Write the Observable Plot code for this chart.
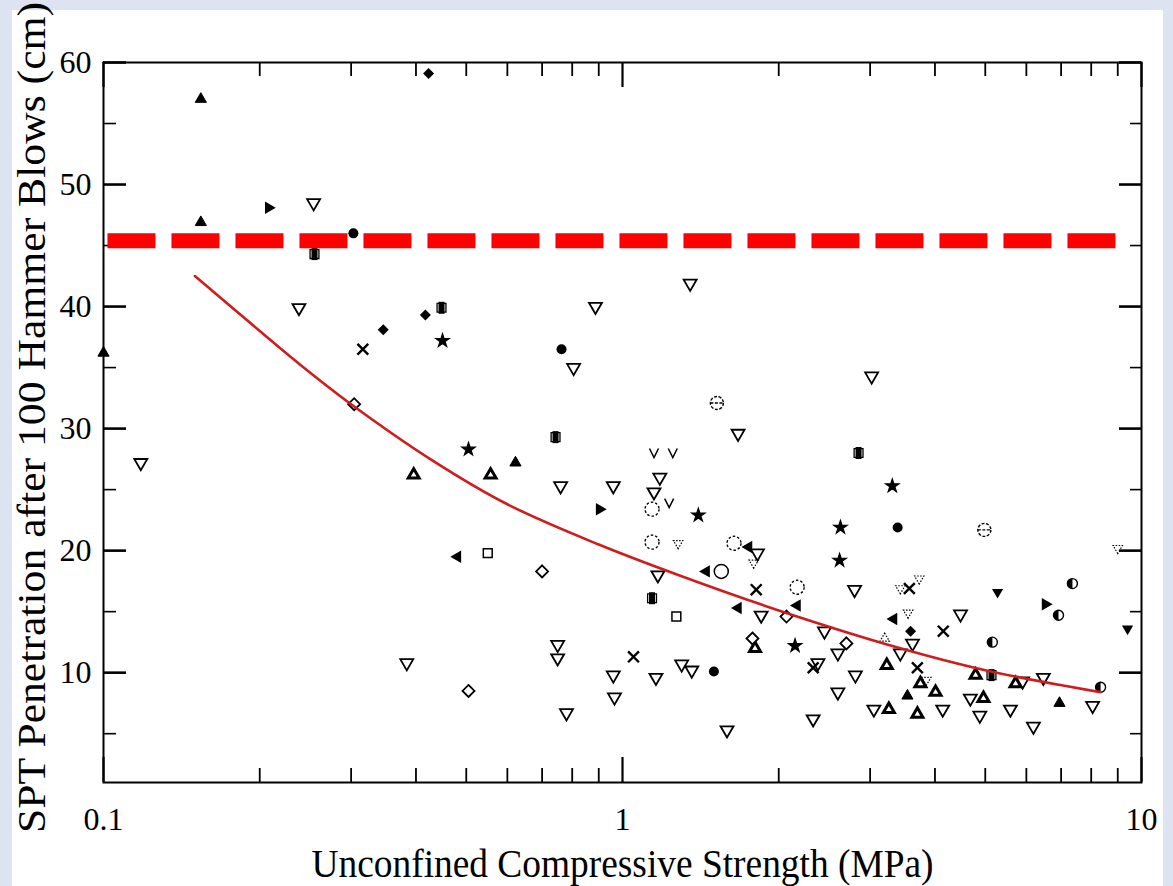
<!DOCTYPE html>
<html><head><meta charset="utf-8">
<script src="https://cdn.jsdelivr.net/npm/d3@7"></script>
<script src="https://cdn.jsdelivr.net/npm/@observablehq/plot@0.6"></script>
<style>
html,body{margin:0;padding:0;background:#dde3f0;width:1173px;height:886px;overflow:hidden;}
#panel{position:absolute;left:12px;top:10px;width:1151px;height:876px;background:#fff;}
#chart{position:absolute;left:0;top:0;}
#chart svg, #chart text{font-family:"Liberation Serif","Times New Roman",Times,serif !important;}
</style></head><body><div id="panel"></div><div id="chart"></div>
<script>
// ---- axis ticks ----
const xMajor = [0.1, 1, 10];
const xMinor = [0.2, 0.3, 0.4, 0.5, 0.6, 0.7, 0.8, 0.9, 2, 3, 4, 5, 6, 7, 8, 9];
const yMajor = [10, 20, 30, 40, 50, 60];
const yMinor = [5, 15, 25, 35, 45, 55];
const xLabel = "Unconfined Compressive Strength (MPa)";
const yLabel = "SPT Penetration after 100 Hammer Blows (cm)";

// ---- limit line and fitted curve ----
const limitLine = [{y: 45.4, x1: 0.102, x2: 9.0}];
const fitX = [0.15, 0.2, 0.24, 0.3, 0.43, 0.6, 0.9, 1.3, 2, 3.43, 5, 8.34];
const fitY = [42.5, 38.0, 35.2, 32.0, 27.4, 23.8, 20.5, 17.9, 15.1, 12.0, 10.2, 8.4];

// ---- scatter series (x MPa, y cm) ----
const triDownOpen = [[0.118,27.2],[0.238,39.9],[0.254,48.5],[0.384,10.8],[0.887,40.0],[0.805,35.0],[1.35,41.9],[1.67,29.6],[1.18,26.0],[0.76,25.3],[0.96,25.3],[1.15,24.8],[1.82,19.8],[1.17,18.0],[1.85,14.7],[2.80,16.8],[0.75,12.3],[0.75,11.2],[0.78,6.7],[0.96,9.8],[1.16,9.6],[1.30,10.7],[1.36,10.2],[0.965,8.0],[1.59,5.3],[2.38,10.8],[2.60,11.6],[2.81,9.8],[2.60,8.4],[2.33,6.2],[3.05,7.0],[2.45,13.4],[3.02,34.3],[4.48,14.8],[3.62,12.4],[3.43,11.6],[4.14,7.0],[4.68,7.9],[4.88,6.5],[5.59,7.0],[5.9,9.3],[6.47,9.6],[6.19,5.6],[8.05,7.3]];
const triUpFilled = [[0.154,57.0],[0.154,46.9],[0.1,36.2],[0.622,27.2],[3.54,8.1],[6.95,7.5]];
const triUpBold = [[0.396,26.2],[0.557,26.2],[1.80,12.0],[3.23,10.6],[3.26,7.0],[3.75,9.1],[4.01,8.4],[3.70,6.6],[4.79,9.8],[4.96,7.9],[5.72,9.1]];
const triRightFilled = [[0.208,48.1],[0.903,23.4],[6.53,15.6]];
const triLeftFilled = [[0.481,19.5],[1.75,20.3],[1.45,18.3],[1.67,15.3],[2.17,15.5],[3.33,14.4]];
const triDownFilled = [[5.28,16.6],[9.40,13.6]];
const circleFilled = [[0.303,46.0],[0.763,36.5],[1.50,10.1],[3.39,21.9]];
const circleHalf = [[7.36,17.3],[6.92,14.7],[5.16,12.5],[8.34,8.8]];
const circleOpen = [[1.55,18.3]];
const circleDashed = [[1.14,23.4],[1.14,20.7],[2.17,17.0],[1.64,20.6]];
const circleBar = [[1.52,32.1],[4.98,21.7]];
const diamondFilled = [[0.423,59.1],[0.346,38.1],[0.417,39.3],[3.59,13.4]];
const diamondOpen = [[0.304,32.0],[0.505,8.5],[0.70,18.3],[2.07,14.6],[1.78,12.8],[2.70,12.4]];
const crosses = [[0.316,36.5],[1.81,16.8],[1.05,11.3],[2.33,10.4],[3.57,16.9],[4.15,13.4],[3.70,10.4]];
const starFilled = [[0.450,37.2],[0.505,28.3],[1.40,22.9],[3.31,25.3],[2.63,21.9],[2.62,19.2],[2.15,12.2]];
const halfSquare = [[0.255,44.3],[0.448,39.9],[0.743,29.3],[2.85,28.0],[1.14,16.1],[5.14,9.8]];
const squareOpen = [[0.550,19.8],[1.27,14.6]];
const chevrons = [[1.15,28.0],[1.25,28.0],[1.23,23.9]];
const triDownDotted = [[1.28,20.6],[1.79,19.0],[3.43,16.9],[3.73,17.7],[3.55,14.9],[9.0,20.2],[3.85,9.4]];
const triUpDotted = [[3.20,12.8]];

// ---- custom symbol shapes ----
function triSym(apexDeg) {
  return {draw(ctx, size) {
    const R = 1.5 * Math.sqrt(size / Math.PI);
    for (let i = 0; i < 3; i++) {
      const a = (apexDeg + 120 * i) * Math.PI / 180;
      const px = R * Math.cos(a), py = R * Math.sin(a);
      if (i) ctx.lineTo(px, py); else ctx.moveTo(px, py);
    }
    ctx.closePath();
  }};
}
const symTriUp = triSym(-90), symTriDown = triSym(90), symTriRight = triSym(0), symTriLeft = triSym(180);
const symChevron = {draw(ctx, size) {const r = Math.sqrt(size / Math.PI); ctx.moveTo(-r, -r); ctx.lineTo(0, r); ctx.lineTo(r, -r);}};
const symCircleBar = {draw(ctx, size) {const r = Math.sqrt(size / Math.PI); ctx.moveTo(r, 0); ctx.arc(0, 0, r, 0, 2 * Math.PI); ctx.moveTo(-r, 0); ctx.lineTo(r, 0);}};
const symHalfRect = {draw(ctx, size) {const r = Math.sqrt(size / Math.PI); ctx.rect(-r, -r, r, 2 * r);}};
const symHalfDisk = {draw(ctx, size) {const r = Math.sqrt(size / Math.PI); ctx.moveTo(0, -r); ctx.arc(0, 0, r, -Math.PI / 2, Math.PI / 2, true); ctx.closePath();}};
const symRhomb = {draw(ctx, size) {const r = Math.sqrt(size / Math.PI); ctx.moveTo(0, -r); ctx.lineTo(r, 0); ctx.lineTo(0, r); ctx.lineTo(-r, 0); ctx.closePath();}};

const px = d => d[0], py = d => d[1];
function dots(data, symbol, opts) { return Plot.dot(data, {x: px, y: py, symbol, ...opts}); }

const fit = fitX.map((x, i) => ({x, y: fitY[i]}));
const W = 1038, H = 720; // frame size in px (for tick insets)

const chart = Plot.plot({
  width: 1173, height: 886,
  marginLeft: 103, marginRight: 32, marginTop: 62, marginBottom: 104,
  style: {background: "transparent", fontSize: "32px", color: "black"},
  x: {type: "log", domain: [0.1, 10]},
  y: {domain: [1, 60]},
  marks: [
    // ticks (inward on all four sides)
    Plot.tickX(xMajor, {x: d => d, insetTop: H - 25, stroke: "black", strokeWidth: 2.2}),
    Plot.tickX(xMajor, {x: d => d, insetBottom: H - 25, stroke: "black", strokeWidth: 2.2}),
    Plot.tickX(xMinor, {x: d => d, insetTop: H - 14, stroke: "black", strokeWidth: 1.8}),
    Plot.tickX(xMinor, {x: d => d, insetBottom: H - 14, stroke: "black", strokeWidth: 1.8}),
    Plot.tickY(yMajor, {y: d => d, insetRight: W - 23, stroke: "black", strokeWidth: 2.6}),
    Plot.tickY(yMajor, {y: d => d, insetLeft: W - 22, stroke: "black", strokeWidth: 2.6}),
    Plot.tickY(yMinor, {y: d => d, insetRight: W - 13, stroke: "black", strokeWidth: 1.6}),
    Plot.tickY(yMinor, {y: d => d, insetLeft: W - 11, stroke: "black", strokeWidth: 1.6}),
    Plot.frame({stroke: "black", strokeWidth: 2}),
    Plot.axisX({ticks: xMajor, tickSize: 0, tickPadding: 25, tickFormat: d => String(d), label: null, fontSize: 32}),
    Plot.axisY({ticks: yMajor, tickSize: 0, tickPadding: 12, tickFormat: d => String(d), label: null, fontSize: 32}),
    Plot.text([xLabel], {text: d => d, frameAnchor: "bottom", dy: 82, fontSize: 39, lineAnchor: "middle", textAnchor: "middle"}),
    Plot.text([yLabel], {text: d => d, frameAnchor: "left", dx: -70.5, dy: -5, rotate: -90, fontSize: 39, lineAnchor: "middle", textAnchor: "middle"}),

    // scatter
    dots(triDownOpen, symTriDown, {r: 5, fill: "white", stroke: "black", strokeWidth: 1.8}),
    dots(triDownDotted, symTriDown, {r: 3.6, fill: "none", stroke: "black", strokeWidth: 1.2, strokeDasharray: "1.5,1.5"}),
    dots(triUpDotted, symTriUp, {r: 3.6, fill: "none", stroke: "black", strokeWidth: 1.2, strokeDasharray: "1.5,1.5"}),
    dots(triUpFilled, symTriUp, {r: 4.3, fill: "black", stroke: "black", strokeWidth: 1}),
    dots(triUpBold, symTriUp, {r: 4.2, fill: "white", stroke: "black", strokeWidth: 3}),
    dots(triRightFilled, symTriRight, {r: 4.8, fill: "black"}),
    dots(triLeftFilled, symTriLeft, {r: 4.8, fill: "black"}),
    dots(triDownFilled, symTriDown, {r: 4.3, fill: "black"}),
    dots(circleFilled, "circle", {r: 5, fill: "black"}),
    dots(circleHalf, "circle", {r: 5, fill: "white", stroke: "black", strokeWidth: 1.4}),
    dots(circleHalf, symHalfDisk, {r: 5, fill: "black"}),
    dots(circleOpen, "circle", {r: 7, fill: "none", stroke: "black", strokeWidth: 1.5}),
    dots(circleDashed, "circle", {r: 7, fill: "none", stroke: "black", strokeWidth: 1.4, strokeDasharray: "2.5,2"}),
    dots(circleBar, symCircleBar, {r: 6.5, fill: "none", stroke: "black", strokeWidth: 1.4, strokeDasharray: "3,1.5"}),
    dots(diamondFilled, symRhomb, {r: 5.5, fill: "black"}),
    dots(diamondOpen, symRhomb, {r: 6, fill: "white", stroke: "black", strokeWidth: 1.8}),
    dots(crosses, "times", {r: 5, fill: "none", stroke: "black", strokeWidth: 2.4}),
    dots(starFilled, "star", {r: 4.2, fill: "black", stroke: "black", strokeWidth: 1.2}),
    dots(halfSquare, "square", {r: 5, fill: "white", stroke: "black", strokeWidth: 1.3}),
    dots(halfSquare, symHalfRect, {r: 6, dx: 3, fill: "black"}),
    dots(squareOpen, "square", {r: 5, fill: "white", stroke: "black", strokeWidth: 1.5}),
    dots(chevrons, symChevron, {r: 4.5, fill: "none", stroke: "black", strokeWidth: 1.5}),

    // limit line and fitted curve
    Plot.ruleY(limitLine, {y: "y", x1: "x1", x2: "x2", stroke: "#fe0000", strokeWidth: 15, strokeDasharray: "48,16"}),
    Plot.line(fit, {x: "x", y: "y", stroke: "#d01c1c", strokeWidth: 2.6, curve: "catmull-rom"})
  ]
});

for (const t of chart.querySelectorAll("text")) {
  if (t.textContent === yLabel) { t.setAttribute("textLength", 831); t.setAttribute("lengthAdjust", "spacingAndGlyphs"); }
  if (t.textContent === xLabel) { t.setAttribute("textLength", 622); t.setAttribute("lengthAdjust", "spacingAndGlyphs"); }
}
document.getElementById("chart").appendChild(chart);
</script></body></html>
